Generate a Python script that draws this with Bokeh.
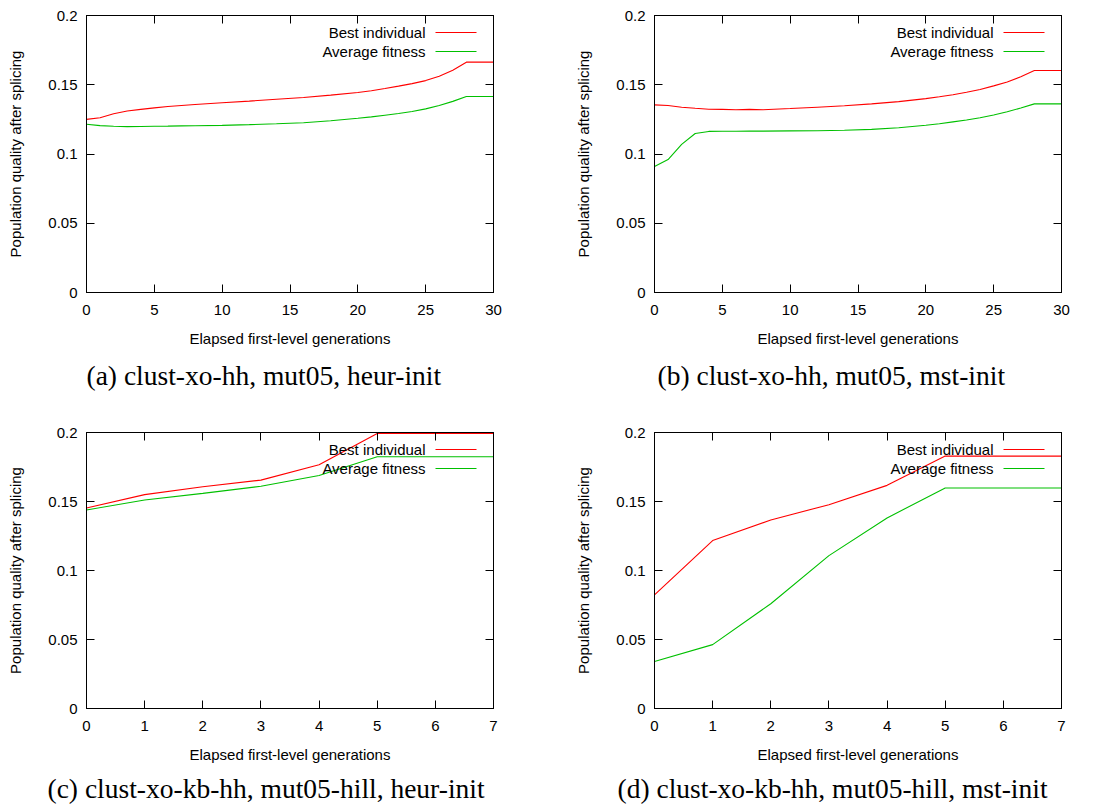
from bokeh.plotting import figure
from bokeh.layouts import gridplot
from bokeh.models import (Range1d, FixedTicker, LinearAxis, Label, Arrow,
                          Title, CustomLabelingPolicy)
from bokeh.embed import file_html
from bokeh.resources import INLINE

# ---- data -------------------------------------------------------------
gen_long = [0, 1, 2, 3, 4, 5, 6, 7, 8, 10, 12, 14, 16, 18, 20, 21, 22, 23,
            24, 25, 26, 27, 28, 29, 30]
a_best = [0.1250, 0.1262, 0.1290, 0.1310, 0.1322, 0.1333, 0.1343, 0.1350,
          0.1357, 0.1370, 0.1382, 0.1395, 0.1408, 0.1425, 0.1444, 0.1457,
          0.1473, 0.1490, 0.1508, 0.1530, 0.1562, 0.1605, 0.1663, 0.1663,
          0.1663]
a_avg = [0.1215, 0.1205, 0.1200, 0.1198, 0.1199, 0.1200, 0.1201, 0.1203,
         0.1204, 0.1207, 0.1212, 0.1218, 0.1226, 0.1240, 0.1258, 0.1268,
         0.1280, 0.1292, 0.1307, 0.1326, 0.1350, 0.1380, 0.1415, 0.1415,
         0.1415]

b_best = [0.1355, 0.1350, 0.1338, 0.1330, 0.1323, 0.1322, 0.1320, 0.1322,
          0.1320, 0.1328, 0.1338, 0.1348, 0.1362, 0.1378, 0.1400, 0.1413,
          0.1428, 0.1446, 0.1466, 0.1492, 0.1520, 0.1558, 0.1603, 0.1603,
          0.1603]
b_avg = [0.0910, 0.0960, 0.1069, 0.1148, 0.1163, 0.1164, 0.1164, 0.1165,
         0.1165, 0.1167, 0.1168, 0.1172, 0.1178, 0.1190, 0.1208, 0.1218,
         0.1232, 0.1245, 0.1262, 0.1282, 0.1305, 0.1332, 0.1362, 0.1362,
         0.1362]

gen_short = [0, 1, 2, 3, 4, 5, 6, 7]
c_best = [0.1453, 0.1550, 0.1607, 0.1655, 0.1766, 0.1993, 0.1993, 0.1993]
c_avg = [0.1439, 0.1511, 0.1559, 0.1610, 0.1689, 0.1824, 0.1824, 0.1824]

d_best = [0.0824, 0.1217, 0.1366, 0.1477, 0.1617, 0.1829, 0.1829, 0.1829]
d_avg = [0.0340, 0.0463, 0.0759, 0.1108, 0.1381, 0.1598, 0.1598, 0.1598]

y_ticks = [0, 0.05, 0.1, 0.15, 0.2]
y_tick_labels = ["0", "0.05", "0.1", "0.15", "0.2"]
x_ticks_long = [0, 5, 10, 15, 20, 25, 30]
x_ticks_short = [0, 1, 2, 3, 4, 5, 6, 7]

series_names = ["Best individual", "Average fitness"]
series_colors = ["#ff0000", "#00c000"]

captions = ["(a) clust-xo-hh, mut05, heur-init",
            "(b) clust-xo-hh, mut05, mst-init",
            "(c) clust-xo-kb-hh, mut05-hill, heur-init",
            "(d) clust-xo-kb-hh, mut05-hill, mst-init"]

X_LABEL = "Elapsed first-level generations"
Y_LABEL = "Population quality after splicing"

SANS = "Liberation Sans"
SERIF = "Liberation Serif"

# mirrored axes keep their ticks but show no numbers
NO_LABELS = CustomLabelingPolicy(code="""
    const all = [...indices]
    for (const i of all) indices.unset(i)
    return indices
""")


def style_axis(ax, ticker, labels=True):
    ax.ticker = ticker
    ax.major_tick_in = 8
    ax.major_tick_out = 0
    ax.minor_tick_in = 0
    ax.minor_tick_out = 0
    ax.axis_line_color = "black"
    ax.major_tick_line_color = "black"
    ax.major_label_text_font = SANS
    ax.major_label_text_color = "black"
    ax.major_label_text_font_size = "15px"
    if not labels:
        ax.major_label_policy = NO_LABELS
        ax.major_label_standoff = 0


def panel(xs, best, avg, xmax, xticks, caption, cap_shift, cap_gap,
          left_b, right_b, top_b, bottom_b):
    W, H = 552, 405
    fw = W - left_b - right_b
    fh = H - top_b - bottom_b
    p = figure(width=W, height=H, output_backend="svg", toolbar_location=None,
               x_range=Range1d(0, xmax), y_range=Range1d(0, 0.2),
               min_border_left=left_b, min_border_right=right_b,
               min_border_top=top_b, min_border_bottom=bottom_b,
               x_axis_label=X_LABEL, y_axis_label=Y_LABEL)
    p.grid.visible = False
    p.outline_line_color = "black"
    p.outline_line_width = 1
    p.background_fill_color = "white"
    p.border_fill_color = "white"

    xt = FixedTicker(ticks=xticks)
    yt = FixedTicker(ticks=y_ticks)

    xa = p.xaxis[0]
    style_axis(xa, xt)
    xa.major_label_standoff = 12
    xa.axis_label_standoff = 12
    ya = p.yaxis[0]
    style_axis(ya, yt)
    ya.major_label_standoff = 9
    ya.axis_label_standoff = 21
    ya.major_label_overrides = {t: s for t, s in zip(y_ticks, y_tick_labels)}
    for ax in (xa, ya):
        ax.axis_label_text_font = SANS
        ax.axis_label_text_font_size = "15px"
        ax.axis_label_text_font_style = "normal"
        ax.axis_label_text_color = "black"

    # mirrored ticks on the top and right edges
    top_ax = LinearAxis()
    style_axis(top_ax, xt, labels=False)
    p.add_layout(top_ax, "above")
    right_ax = LinearAxis()
    style_axis(right_ax, yt, labels=False)
    p.add_layout(right_ax, "right")

    for vals, color in zip((best, avg), series_colors):
        p.line(xs, vals, line_color=color, line_width=1.1)

    # key: text on the left, line sample on the right
    for i, (name, color) in enumerate(zip(series_names, series_colors)):
        ky = fh - 17 - 19 * i
        p.add_layout(Label(x=fw - 68, y=ky, x_units="screen", y_units="screen",
                           text=name, text_align="right",
                           text_baseline="middle", text_font=SANS,
                           text_font_size="15px", text_color="black"))
        p.add_layout(Arrow(end=None, x_start=fw - 58, y_start=ky,
                           x_end=fw - 17, y_end=ky,
                           start_units="screen", end_units="screen",
                           line_color=color, line_width=1.1))

    cap = Title(text=caption, align="left", offset=cap_shift, standoff=cap_gap,
                text_font=SERIF, text_font_size="27.5px",
                text_font_style="normal", text_color="black")
    p.add_layout(cap, "below")
    return p


# borders: left column / right column, top row / bottom row
LEFT_COL = (86, 59)
RIGHT_COL = (102, 43)
TOP_ROW = (15, 113)
BOTTOM_ROW = (27, 102)

pa = panel(gen_long, a_best, a_avg, 30, x_ticks_long, captions[0], 0, 17,
           *LEFT_COL, *TOP_ROW)
pb = panel(gen_long, b_best, b_avg, 30, x_ticks_long, captions[1], 3, 17,
           *RIGHT_COL, *TOP_ROW)
pc = panel(gen_short, c_best, c_avg, 7, x_ticks_short, captions[2], -39, 11,
           *LEFT_COL, *BOTTOM_ROW)
pd = panel(gen_short, d_best, d_avg, 7, x_ticks_short, captions[3], -37, 11,
           *RIGHT_COL, *BOTTOM_ROW)

grid = gridplot([[pa, pb], [pc, pd]], toolbar_location=None)

open("out.html", "w").write(file_html(grid, INLINE))
